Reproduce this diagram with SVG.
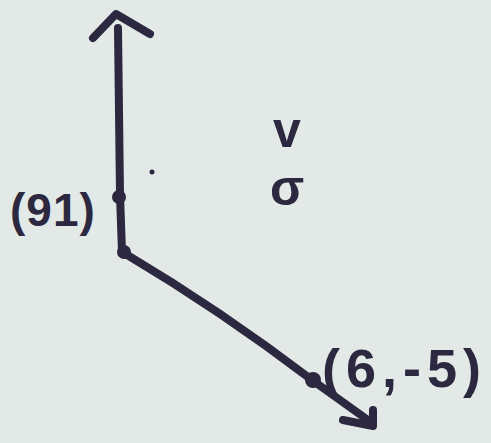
<svg xmlns="http://www.w3.org/2000/svg" width="491" height="443" viewBox="0 0 491 443">
<style>
.ink{fill:none;stroke:#2b2840;stroke-width:8;stroke-linecap:round;stroke-linejoin:round}
.lbl{font-family:"Liberation Sans",Arial,sans-serif;font-weight:bold;fill:#2b2840}
</style>
<rect width="491" height="443" fill="#e3e9e6"/>
<g id="connectors">
<path class="ink" d="M118 28 L120 195 L122 252"/>
<path class="ink" d="M93 38 L116 14 L150 34"/>
<path class="ink" d="M124 253 Q220 310 312 380 L372 423"/>
<path class="ink" d="M343 420 L373 426 L373 410"/>
</g>
<g id="origin"><circle cx="124" cy="252" r="7" fill="#2b2840"/></g>
<g id="point-9-1">
<circle cx="119" cy="197" r="7" fill="#2b2840"/>
<text class="lbl" x="10" y="226" font-size="46" letter-spacing="1">(91)</text>
</g>
<g id="point-6-5">
<circle cx="313" cy="380" r="8" fill="#2b2840"/>
<text class="lbl" x="322" y="387" font-size="54" letter-spacing="6">(6,-5)</text>
</g>
<g id="vector-label">
<text class="lbl" x="287" y="147" font-size="50" text-anchor="middle">v</text>
<text class="lbl" x="287" y="205" font-size="50" text-anchor="middle">σ</text>
</g>
<circle cx="152" cy="172" r="2.5" fill="#2b2840"/>
</svg>
